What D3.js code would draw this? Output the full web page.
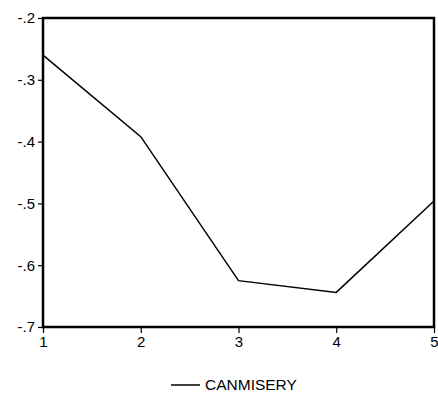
<!DOCTYPE html>
<html><head><meta charset="utf-8">
<script src="https://cdn.jsdelivr.net/npm/d3@7"></script>
<style>body{margin:0;background:#fff}svg{display:block}</style>
</head><body>
<svg id="c" width="438" height="400"></svg>
<script>
const categories = [1, 2, 3, 4, 5];
const values = [-0.26, -0.392, -0.625, -0.644, -0.496];
const yTicks = [-0.2, -0.3, -0.4, -0.5, -0.6, -0.7];
const yTickLabels = ["-.2", "-.3", "-.4", "-.5", "-.6", "-.7"];
const seriesName = "CANMISERY";

const svg = d3.select("#c");
const m = {l: 43, r: 4, t: 18, b: 73};
const W = 438, H = 400;
const x = d3.scaleLinear().domain([1, 5]).range([m.l, W - m.r]);
const y = d3.scaleLinear().domain([-0.7, -0.2]).range([H - m.b, m.t]);
const font = "'Liberation Sans', Arial, sans-serif";

const yAxis = d3.axisLeft(y).tickValues(yTicks).tickFormat((d, i) => yTickLabels[i]).tickSize(5).tickPadding(3);
const gy = svg.append("g").attr("transform", `translate(${m.l},0)`).call(yAxis);
gy.select(".domain").remove();
gy.selectAll("line").attr("stroke", "#000").attr("stroke-width", 1.2);
gy.selectAll("text").attr("font-family", font).attr("font-size", 15).attr("fill", "#000");

const xAxis = d3.axisBottom(x).tickValues(categories).tickFormat(d3.format("d")).tickSize(6).tickPadding(3);
const gx = svg.append("g").attr("transform", `translate(0,${H - m.b})`).call(xAxis);
gx.select(".domain").remove();
gx.selectAll("line").attr("stroke", "#000").attr("stroke-width", 1.2);
gx.selectAll("text").attr("font-family", font).attr("font-size", 15).attr("fill", "#000");

svg.append("rect")
  .attr("x", m.l).attr("y", m.t)
  .attr("width", W - m.r - m.l).attr("height", H - m.b - m.t)
  .attr("fill", "none").attr("stroke", "#000").attr("stroke-width", 2.5);

const line = d3.line().x((d, i) => x(categories[i])).y(d => y(d));
svg.append("path").datum(values).attr("d", line)
  .attr("fill", "none").attr("stroke", "#000").attr("stroke-width", 1.5);

const lg = svg.append("g");
lg.append("line").attr("x1", 171).attr("x2", 200).attr("y1", 385).attr("y2", 385)
  .attr("stroke", "#000").attr("stroke-width", 1.5);
lg.append("text").attr("x", 205).attr("y", 390).text(seriesName)
  .attr("font-family", font).attr("font-size", 15.5).attr("fill", "#000");
</script>
</body></html>
